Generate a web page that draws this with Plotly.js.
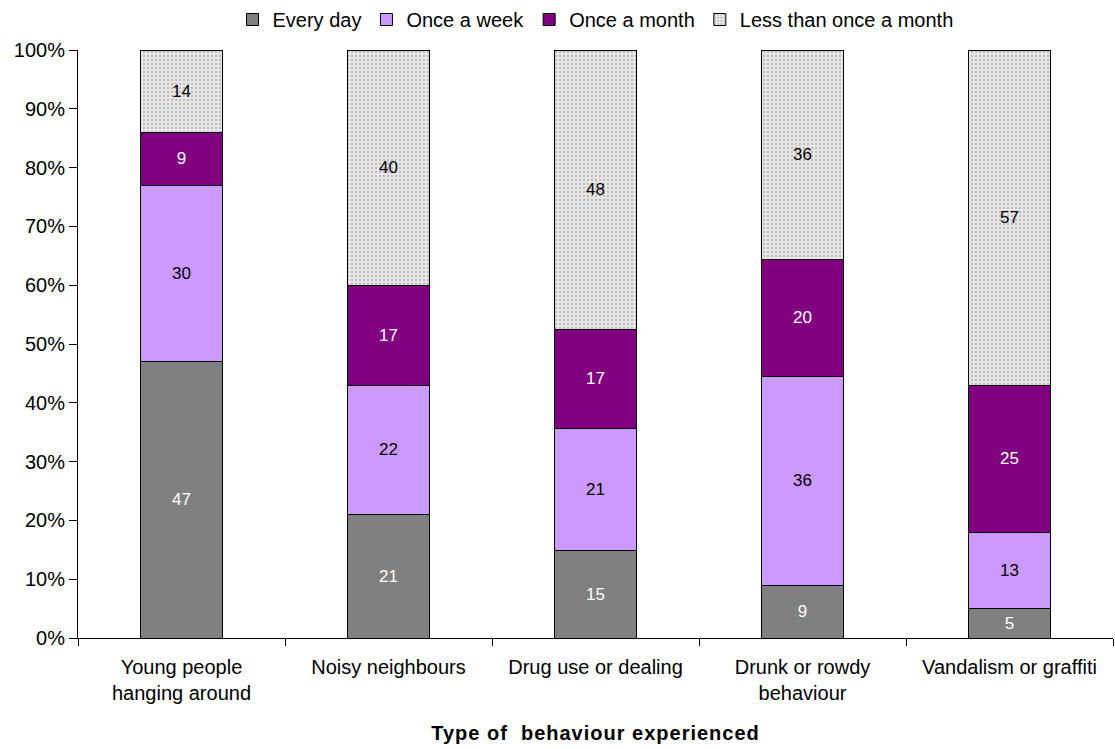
<!DOCTYPE html>
<html>
<head>
<meta charset="utf-8">
<script src="https://cdn.plot.ly/plotly-3.0.1.min.js"></script>
<style>
  html, body { margin: 0; padding: 0; background: #fff; }
  #chart { width: 1115px; height: 749px; }
  /* slightly tracked-out bold axis title */
  #chart .g-xtitle text { letter-spacing: 1px; }
</style>
</head>
<body>
<div id="chart"></div>
<script>
// Frequency of anti-social behaviour experienced, by type (values shown as reported)
const categories = [
  'Young people<br>hanging around',
  'Noisy neighbours',
  'Drug use or dealing',
  'Drunk or rowdy<br>behaviour',
  'Vandalism or graffiti'
];
const everyDay = [47, 21, 15, 9, 5];
const onceAWeek = [30, 22, 21, 36, 13];
const onceAMonth = [9, 17, 17, 20, 25];
const lessThanMonth = [14, 40, 48, 36, 57];
const seriesNames = ['Every day', 'Once a week', 'Once a month', 'Less than once a month'];
const yTickVals = [0, 10, 20, 30, 40, 50, 60, 70, 80, 90, 100];

const FONT = 'Liberation Sans, Arial, sans-serif';

function barTrace(name, values, fill, textColor, pattern) {
  const marker = { color: fill, line: { color: '#000000', width: 1 } };
  if (pattern) marker.pattern = pattern;
  return {
    type: 'bar',
    name: name,
    x: categories,
    y: values,
    text: values.map(String),
    textposition: 'inside',
    insidetextanchor: 'middle',
    textangle: 0,
    textfont: { family: FONT, size: 17, color: textColor },
    marker: marker,
    hoverinfo: 'name+text'
  };
}

const data = [
  barTrace(seriesNames[0], everyDay, '#808080', '#ffffff'),
  barTrace(seriesNames[1], onceAWeek, '#cc99ff', '#000000'),
  barTrace(seriesNames[2], onceAMonth, '#800080', '#ffffff'),
  barTrace(seriesNames[3], lessThanMonth, '#e4e4e4', '#000000',
    { shape: '.', bgcolor: '#e8e8e8', fgcolor: '#b8b8b8', size: 4, solidity: 0.25 })
];

const layout = {
  width: 1115,
  height: 749,
  paper_bgcolor: '#ffffff',
  plot_bgcolor: '#ffffff',
  barmode: 'stack',
  barnorm: 'percent',
  bargap: 0.6,
  margin: { l: 78, r: 2, t: 50, b: 111 },
  font: { family: FONT, size: 20, color: '#000000' },
  showlegend: true,
  legend: {
    orientation: 'h',
    x: 0.5,
    xanchor: 'center',
    y: 1,
    yanchor: 'top',
    yref: 'container',
    font: { family: FONT, size: 20 },
    itemwidth: 30,
    traceorder: 'normal'
  },
  xaxis: {
    type: 'category',
    tickson: 'boundaries',
    ticks: 'outside',
    ticklen: 7,
    tickcolor: '#000000',
    ticklabelstandoff: 11,
    showline: true,
    linecolor: '#000000',
    linewidth: 1,
    showgrid: false,
    zeroline: false,
    automargin: false,
    tickfont: { family: FONT, size: 20 },
    title: {
      text: '<b>Type of\u00a0 behaviour experienced</b>',
      font: { family: FONT, size: 20 },
      standoff: 22
    }
  },
  yaxis: {
    range: [0, 100],
    tickvals: yTickVals,
    ticktext: yTickVals.map(v => v + '%'),
    ticks: 'outside',
    ticklen: 8,
    tickcolor: '#000000',
    showline: true,
    linecolor: '#000000',
    linewidth: 1,
    showgrid: false,
    zeroline: false,
    tickfont: { family: FONT, size: 20 }
  }
};

Plotly.newPlot('chart', data, layout, { displayModeBar: false, staticPlot: true });
</script>
</body>
</html>
